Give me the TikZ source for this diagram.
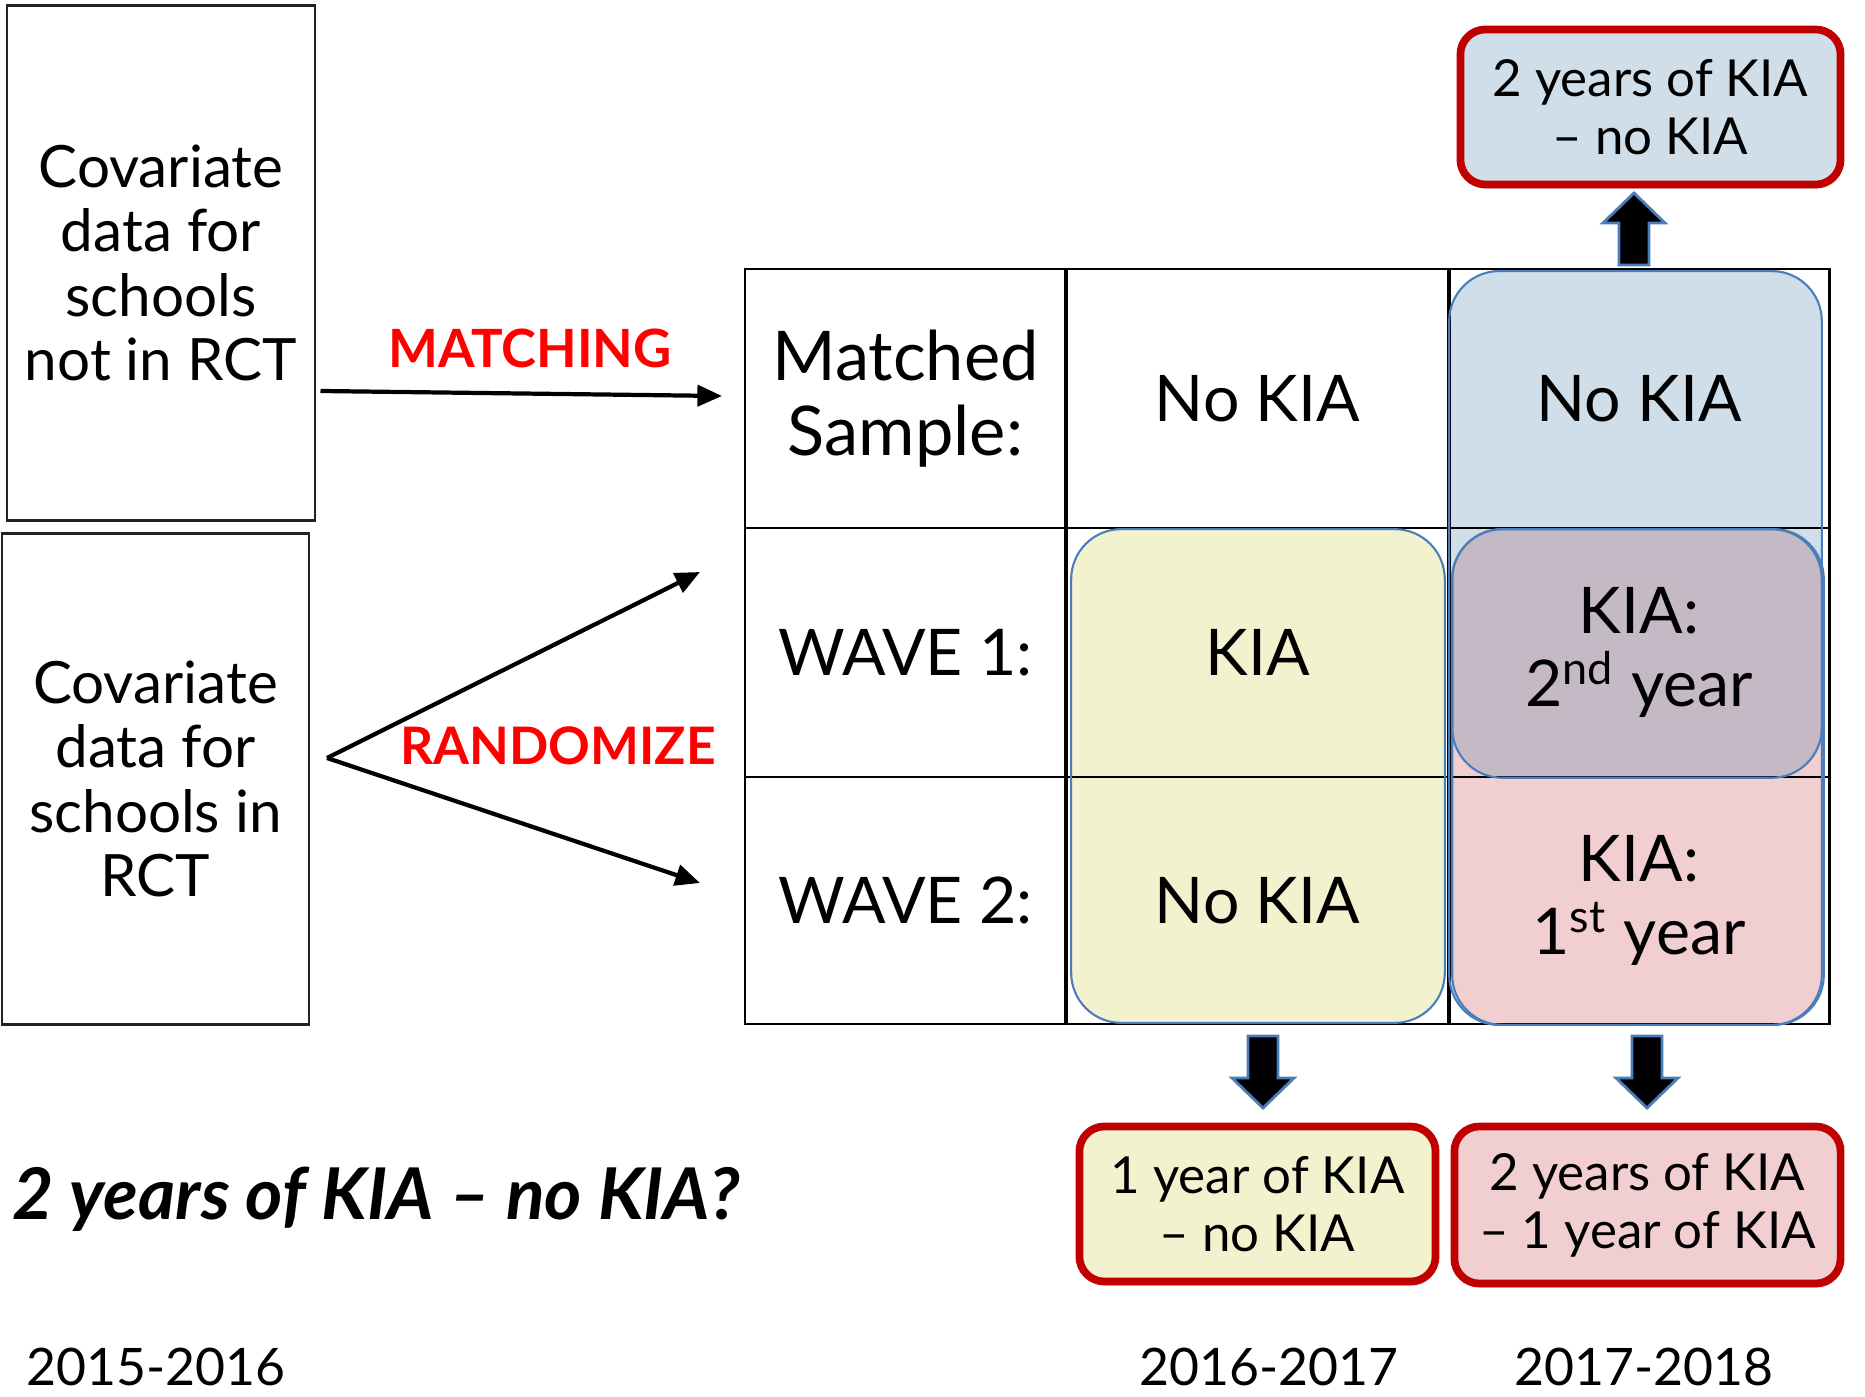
\documentclass[tikz,border=0pt]{standalone}
\usepackage{fontspec}
\setmainfont{Lato}
\usetikzlibrary{arrows.meta,shadows}

\definecolor{kiaBlue}{RGB}{207,222,232}
\definecolor{kiaYellow}{RGB}{242,242,207}
\definecolor{kiaPurple}{RGB}{197,185,197}
\definecolor{kiaPink}{RGB}{241,207,208}
\definecolor{edgeBlue}{RGB}{74,126,187}
\definecolor{boxRed}{RGB}{192,0,0}
\definecolor{gridGray}{RGB}{35,35,35}

\newcommand\fsz[2]{\fontsize{#1}{#2}\selectfont}

\tikzset{
  sidebox/.style={draw=gridGray, line width=0.8pt, align=center, inner sep=0pt,
    font=\fsz{16.6}{18.3}},
  cell/.style={draw=black, line width=0.8pt, inner sep=0pt, align=center,
    font=\fsz{18.3}{21}},
  panel/.style={rounded corners=0.5cm, inner sep=0pt},
  panelline/.style={draw=edgeBlue, line width=0.6pt, rounded corners=0.5cm},
  resultbox/.style={draw=boxRed, line width=2.2pt, rounded corners=0.25cm,
    align=center, inner sep=0pt, font=\fsz{14.5}{16.5},
    drop shadow={opacity=0.25, shadow xshift=0.6pt, shadow yshift=-1.2pt}},
  flow/.style={-{Triangle[length=7pt,width=6pt]}, line width=1.2pt},
  redlabel/.style={text=red, font=\fsz{15}{18}\bfseries},
  yearlabel/.style={font=\fsz{14.7}{18}},
  blockfill/.style={fill=black, draw=edgeBlue, line width=0.8pt, line join=miter},
  blockarr/.pic={
    \path[blockfill] (-15,0) -- (15,0) -- (15,42) -- (31,42) -- (0,72)
      -- (-31,42) -- (-15,42) -- cycle;
  },
}

\begin{document}
\begin{tikzpicture}[x=0.01cm, y=-0.01cm]
\useasboundingbox[fill=white] (0,0) rectangle (1865,1397);

% covariate sources on the left
\node[sidebox, minimum width=3.08cm, minimum height=5.14cm] (nonrct) at (161,263)
  {Covariate\\data for\\schools\\not in RCT};
\node[sidebox, minimum width=3.07cm, minimum height=4.90cm] (rct) at (155.5,779)
  {Covariate\\data for\\schools in\\RCT};

% shaded groups behind the table
\node[panel, fill=kiaBlue,   minimum width=3.71cm, minimum height=7.52cm] (pblue)   at (1635.5,648) {};
\node[panel, fill=kiaPink,   minimum width=3.70cm, minimum height=4.94cm] (ppink)   at (1638,777) {};
\node[panel, fill=kiaPurple, minimum width=3.68cm, minimum height=2.47cm] (ppurple) at (1637,653.5) {};
\node[panel, fill=kiaYellow, minimum width=3.72cm, minimum height=4.92cm] (pyellow) at (1258,776) {};

% table cells
\node[cell, minimum width=3.21cm, minimum height=2.59cm, font=\fsz{19.5}{21.5}] (m0) at (905.5,398.5) {Matched\\Sample:};
\node[cell, minimum width=3.83cm, minimum height=2.59cm] (m1) at (1257.5,398.5) {No KIA};
\node[cell, minimum width=3.80cm, minimum height=2.59cm] (m2) at (1639,398.5) {No KIA};
\node[cell, minimum width=3.21cm, minimum height=2.49cm] (w10) at (905.5,652.5) {WAVE 1:};
\node[cell, minimum width=3.83cm, minimum height=2.49cm] (w11) at (1257.5,652.5) {KIA};
\node[cell, minimum width=3.80cm, minimum height=2.49cm] (w12) at (1639,652.5) {KIA:\\2\textsuperscript{nd} year};
\node[cell, minimum width=3.21cm, minimum height=2.47cm] (w20) at (905.5,900.5) {WAVE 2:};
\node[cell, minimum width=3.83cm, minimum height=2.47cm] (w21) at (1257.5,900.5) {No KIA};
\node[cell, minimum width=3.80cm, minimum height=2.47cm] (w22) at (1639,900.5) {KIA:\\1\textsuperscript{st} year};

% outlines of the shaded groups
\draw[panelline] (pblue.south west) rectangle (pblue.north east);
\draw[panelline] (ppink.south west) rectangle (ppink.north east);
\draw[panelline] (ppurple.south west) rectangle (ppurple.north east);
\draw[panelline] (pyellow.south west) rectangle (pyellow.north east);

% matching and randomisation
\coordinate (matchEnd) at (722,396);
\coordinate (randFork) at (327,758);
\coordinate (wave1End) at (700,572);
\coordinate (wave2End) at (700,883);
\draw[flow] (nonrct.east |- 0,391) ++(4,0) -- (matchEnd);
\draw[flow] (randFork) -- (wave1End);
\draw[flow] (randFork) -- (wave2End);
\node[redlabel] (matchlbl) at (530,348) {MATCHING};
\node[redlabel, font=\fsz{14.7}{18}\bfseries] (randlbl) at (558,746) {RANDOMIZE};

% comparisons
\node[resultbox, fill=kiaBlue, minimum width=3.80cm, minimum height=1.55cm] (cmpTop) at (1650.5,107)
  {2 years of KIA\\-- no KIA};
\node[resultbox, fill=kiaYellow, minimum width=3.56cm, minimum height=1.55cm] (cmpA) at (1257.5,1204)
  {1 year of KIA\\-- no KIA};
\node[resultbox, fill=kiaPink, minimum width=3.86cm, minimum height=1.57cm] (cmpB) at (1647.5,1205)
  {2 years of KIA\\-- 1 year of KIA};

\pic[rotate=180] at (1634,265) {blockarr};
\pic at (1263,1036) {blockarr};
\pic at (1647,1036) {blockarr};

% question and school years
\node[font=\fsz{20.3}{24}\bfseries\itshape, anchor=west, inner sep=0pt] (question) at (12,1199)
  {2 years of KIA -- no KIA?};
\node[yearlabel] (y1) at (156,1367) {2015-2016};
\node[yearlabel] (y2) at (1269,1367) {2016-2017};
\node[yearlabel] (y3) at (1644,1367) {2017-2018};
\end{tikzpicture}
\end{document}
